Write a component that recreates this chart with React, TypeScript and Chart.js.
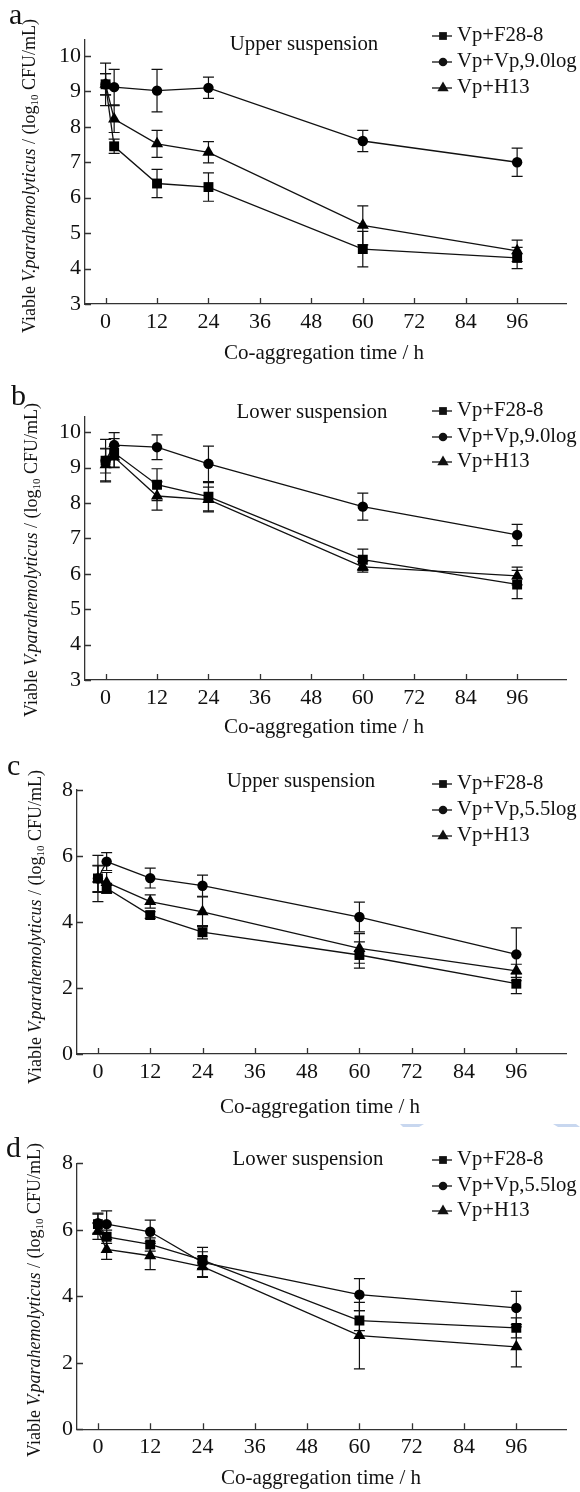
import React, { useEffect, useRef } from "react";
import { Chart, registerables } from "chart.js";

Chart.register(...registerables);

// ---------- data ----------
const TIMES = [0, 2, 12, 24, 60, 96];
const X_TICKS = [0, 12, 24, 36, 48, 60, 72, 84, 96];
const Y_TICKS_AB = [3, 4, 5, 6, 7, 8, 9, 10];
const Y_TICKS_CD = [0, 2, 4, 6, 8];

const LABELS_AB = ["Vp+F28-8", "Vp+Vp,9.0log", "Vp+H13"];
const LABELS_CD = ["Vp+F28-8", "Vp+Vp,5.5log", "Vp+H13"];

const A_F28 = [9.2, 7.45, 6.4, 6.3, 4.55, 4.3];
const A_F28_ERR = [0.6, 0.2, 0.4, 0.4, 0.5, 0.3];
const A_VP = [9.2, 9.12, 9.02, 9.1, 7.6, 7.0];
const A_VP_ERR = [0.3, 0.5, 0.6, 0.3, 0.3, 0.4];
const A_H13 = [9.2, 8.22, 7.52, 7.28, 5.22, 4.5];
const A_H13_ERR = [0.3, 0.38, 0.38, 0.3, 0.55, 0.3];

const B_F28 = [9.2, 9.42, 8.52, 8.18, 6.4, 5.7];
const B_F28_ERR = [0.6, 0.4, 0.45, 0.4, 0.3, 0.4];
const B_VP = [9.2, 9.64, 9.58, 9.11, 7.9, 7.1];
const B_VP_ERR = [0.35, 0.35, 0.35, 0.5, 0.38, 0.3];
const B_H13 = [9.08, 9.3, 8.2, 8.1, 6.2, 5.94];
const B_H13_ERR = [0.45, 0.3, 0.4, 0.35, 0.15, 0.25];

const C_F28 = [5.32, 5.02, 4.21, 3.69, 3.0, 2.13];
const C_F28_ERR = [0.4, 0.15, 0.1, 0.2, 0.4, 0.3];
const C_VP = [5.32, 5.83, 5.33, 5.1, 4.15, 3.02];
const C_VP_ERR = [0.7, 0.27, 0.3, 0.32, 0.45, 0.8];
const C_H13 = [5.3, 5.2, 4.62, 4.31, 3.2, 2.52];
const C_H13_ERR = [0.4, 0.3, 0.2, 0.45, 0.45, 0.2];

const D_F28 = [6.17, 5.79, 5.56, 5.09, 3.27, 3.05];
const D_F28_ERR = [0.3, 0.2, 0.2, 0.25, 0.3, 0.3];
const D_VP = [6.2, 6.17, 5.94, 5.02, 4.05, 3.65];
const D_VP_ERR = [0.3, 0.4, 0.35, 0.45, 0.48, 0.5];
const D_H13 = [5.96, 5.41, 5.22, 4.89, 2.82, 2.48];
const D_H13_ERR = [0.25, 0.3, 0.42, 0.3, 1.0, 0.6];

// ---------- styling / layout ----------
const SERIF = "'Liberation Serif', 'Times New Roman', serif";
const INK = "#111";
const STYLES = [
  { pointStyle: "rect", radius: 7 },
  { pointStyle: "circle", radius: 5.2 },
  { pointStyle: "triangle", radius: 7 },
];

type Panel = {
  letter: string;
  title: string;
  labels: string[];
  series: number[][];
  errors: number[][];
  yMin: number;
  yMax: number;
  yTicks: number[];
  height: number;
  area: { left: number; top: number; bottom: number };
  letterPos: [number, number];
  titlePos: [number, number];
  legendRows: number[];
  xTitlePos: [number, number];
  yTitlePos: [number, number];
  blue?: boolean;
};

const PANELS: Panel[] = [
  {
    letter: "a",
    title: "Upper suspension",
    labels: LABELS_AB,
    series: [A_F28, A_VP, A_H13],
    errors: [A_F28_ERR, A_VP_ERR, A_H13_ERR],
    yMin: 3,
    yMax: 10.45,
    yTicks: Y_TICKS_AB,
    height: 370,
    area: { left: 85, top: 40, bottom: 304 },
    letterPos: [9, 24],
    titlePos: [304, 45],
    legendRows: [36, 62, 88],
    xTitlePos: [324, 353],
    yTitlePos: [30, 176],
  },
  {
    letter: "b",
    title: "Lower suspension",
    labels: LABELS_AB,
    series: [B_F28, B_VP, B_H13],
    errors: [B_F28_ERR, B_VP_ERR, B_H13_ERR],
    yMin: 3,
    yMax: 10.45,
    yTicks: Y_TICKS_AB,
    height: 370,
    area: { left: 85, top: 46.4, bottom: 310 },
    letterPos: [11, 35],
    titlePos: [312, 43],
    legendRows: [41, 67, 92],
    xTitlePos: [324, 357],
    yTitlePos: [32, 190],
  },
  {
    letter: "c",
    title: "Upper suspension",
    labels: LABELS_CD,
    series: [C_F28, C_VP, C_H13],
    errors: [C_F28_ERR, C_VP_ERR, C_H13_ERR],
    yMin: 0,
    yMax: 8,
    yTicks: Y_TICKS_CD,
    height: 380,
    area: { left: 77, top: 50, bottom: 314 },
    letterPos: [7, 35],
    titlePos: [301, 42],
    legendRows: [44, 70, 96],
    xTitlePos: [320, 367],
    yTitlePos: [36, 187],
  },
  {
    letter: "d",
    title: "Lower suspension",
    labels: LABELS_CD,
    series: [D_F28, D_VP, D_H13],
    errors: [D_F28_ERR, D_VP_ERR, D_H13_ERR],
    yMin: 0,
    yMax: 8,
    yTicks: Y_TICKS_CD,
    height: 372,
    area: { left: 77, top: 43.3, bottom: 309.3 },
    letterPos: [6, 37],
    titlePos: [308, 40],
    legendRows: [40, 66, 91],
    xTitlePos: [321, 358],
    yTitlePos: [35, 180],
    blue: true,
  },
];

const Y_AXIS_W = 40;
const X_AXIS_H = 30;
const AREA_RIGHT = 566;
const WIDTH = 580;

function drawMarker(ctx: CanvasRenderingContext2D, style: string, x: number, y: number, r: number) {
  ctx.beginPath();
  if (style === "rect") {
    const s = r * Math.SQRT1_2;
    ctx.rect(x - s, y - s, 2 * s, 2 * s);
  } else if (style === "circle") {
    ctx.arc(x, y, r, 0, Math.PI * 2);
  } else {
    ctx.moveTo(x, y - r);
    ctx.lineTo(x + r * 0.866, y + r * 0.5);
    ctx.lineTo(x - r * 0.866, y + r * 0.5);
    ctx.closePath();
  }
  ctx.fill();
}

function drawYTitle(ctx: CanvasRenderingContext2D, cx: number, cy: number) {
  const size = 18;
  const parts = [
    { t: "Viable ", f: `${size}px ${SERIF}`, dy: 0 },
    { t: "V.parahemolyticus", f: `italic ${size}px ${SERIF}`, dy: 0 },
    { t: " / (log", f: `${size}px ${SERIF}`, dy: 0 },
    { t: "10", f: `${Math.round(size * 0.62)}px ${SERIF}`, dy: 5 },
    { t: " CFU/mL)", f: `${size}px ${SERIF}`, dy: 0 },
  ];
  ctx.save();
  ctx.translate(cx, cy);
  ctx.rotate(-Math.PI / 2);
  ctx.textBaseline = "middle";
  ctx.textAlign = "left";
  let total = 0;
  for (const p of parts) {
    ctx.font = p.f;
    total += ctx.measureText(p.t).width;
  }
  let x = -total / 2;
  for (const p of parts) {
    ctx.font = p.f;
    ctx.fillText(p.t, x, p.dy);
    x += ctx.measureText(p.t).width;
  }
  ctx.restore();
}

function makeChart(canvas: HTMLCanvasElement, p: Panel) {
  const datasets = p.series.map((vals, i) => ({
    label: p.labels[i],
    data: TIMES.map((t, j) => ({ x: t, y: vals[j] })),
    errors: p.errors[i],
    borderColor: INK,
    borderWidth: 1.3,
    pointStyle: STYLES[i].pointStyle as any,
    pointRadius: STYLES[i].radius,
    pointBackgroundColor: "#000",
    pointBorderColor: "#000",
    pointBorderWidth: 0,
    tension: 0,
    fill: false,
  }));

  const errorBars = {
    id: "errorBars",
    beforeDatasetsDraw(chart: any) {
      const ctx = chart.ctx as CanvasRenderingContext2D;
      const ys = chart.scales.y;
      ctx.save();
      ctx.strokeStyle = INK;
      ctx.lineWidth = 1.2;
      chart.data.datasets.forEach((ds: any, i: number) => {
        const meta = chart.getDatasetMeta(i);
        meta.data.forEach((pt: any, j: number) => {
          const v = ds.data[j].y;
          const e = ds.errors[j];
          const x = pt.x;
          const y1 = ys.getPixelForValue(v + e);
          const y2 = ys.getPixelForValue(v - e);
          const cap = 5.5;
          ctx.beginPath();
          ctx.moveTo(x, y1);
          ctx.lineTo(x, y2);
          ctx.moveTo(x - cap, y1);
          ctx.lineTo(x + cap, y1);
          ctx.moveTo(x - cap, y2);
          ctx.lineTo(x + cap, y2);
          ctx.stroke();
        });
      });
      ctx.restore();
    },
  };

  const decorations = {
    id: "decorations",
    afterDraw(chart: any) {
      const ctx = chart.ctx as CanvasRenderingContext2D;
      const xs = chart.scales.x;
      const ys = chart.scales.y;
      const area = chart.chartArea;
      ctx.save();
      // inward tick marks
      ctx.strokeStyle = "#333";
      ctx.lineWidth = 1.3;
      ctx.beginPath();
      for (const t of X_TICKS) {
        const px = Math.round(xs.getPixelForValue(t)) + 0.5;
        ctx.moveTo(px, area.bottom);
        ctx.lineTo(px, area.bottom - 6);
      }
      for (const t of p.yTicks) {
        const py = Math.round(ys.getPixelForValue(t)) + 0.5;
        ctx.moveTo(area.left, py);
        ctx.lineTo(area.left + 6, py);
      }
      ctx.stroke();

      ctx.fillStyle = INK;
      // panel letter
      ctx.font = `30px ${SERIF}`;
      ctx.textAlign = "left";
      ctx.textBaseline = "alphabetic";
      ctx.fillText(p.letter, p.letterPos[0], p.letterPos[1]);

      // panel title
      ctx.font = `20.8px ${SERIF}`;
      ctx.textAlign = "center";
      ctx.textBaseline = "middle";
      ctx.fillText(p.title, p.titlePos[0], p.titlePos[1]);

      // x axis title
      ctx.font = `21px ${SERIF}`;
      ctx.fillText("Co-aggregation time / h", p.xTitlePos[0], p.xTitlePos[1]);

      // y axis title
      drawYTitle(ctx, p.yTitlePos[0], p.yTitlePos[1]);

      // legend
      ctx.font = `20.7px ${SERIF}`;
      ctx.textAlign = "left";
      ctx.textBaseline = "middle";
      chart.data.datasets.forEach((ds: any, i: number) => {
        const y = p.legendRows[i];
        ctx.strokeStyle = INK;
        ctx.lineWidth = 1.3;
        ctx.beginPath();
        ctx.moveTo(432, y);
        ctx.lineTo(452, y);
        ctx.stroke();
        const st = STYLES[i].pointStyle;
        drawMarker(ctx, st, 443, y, st === "triangle" ? 6.5 : st === "rect" ? 5.5 : 4.3);
        ctx.fillText(ds.label, 457, y);
      });

      if (p.blue) {
        ctx.fillStyle = "#c8d7ef";
        ctx.beginPath();
        ctx.moveTo(400, 4);
        ctx.lineTo(424, 4);
        ctx.lineTo(419, 7);
        ctx.lineTo(403, 7);
        ctx.closePath();
        ctx.fill();
        ctx.beginPath();
        ctx.moveTo(553, 4);
        ctx.lineTo(576, 4);
        ctx.lineTo(580, 7);
        ctx.lineTo(558, 7);
        ctx.closePath();
        ctx.fill();
      }
      ctx.restore();
    },
  };

  const tickFont = { family: SERIF, size: 22 };

  return new Chart(canvas, {
    type: "line",
    data: { datasets: datasets as any },
    options: {
      animation: false,
      responsive: false,
      devicePixelRatio: 1,
      layout: {
        padding: {
          left: p.area.left - Y_AXIS_W,
          right: WIDTH - AREA_RIGHT,
          top: p.area.top,
          bottom: p.height - p.area.bottom - X_AXIS_H,
        },
      },
      plugins: {
        legend: { display: false },
        tooltip: { enabled: false },
        title: { display: false },
      },
      scales: {
        x: {
          type: "linear",
          min: -4.8,
          max: 107.4,
          grid: { display: false, drawTicks: false },
          border: { display: true, color: "#333", width: 1.3 },
          ticks: { font: tickFont, color: INK, padding: 5, maxRotation: 0 },
          afterBuildTicks: (scale: any) => {
            scale.ticks = X_TICKS.map((v) => ({ value: v }));
          },
          afterFit: (scale: any) => {
            scale.height = X_AXIS_H;
          },
        },
        y: {
          type: "linear",
          min: p.yMin,
          max: p.yMax,
          grid: { display: false, drawTicks: false },
          border: { display: true, color: "#333", width: 1.3 },
          ticks: { font: tickFont, color: INK, padding: 4 },
          afterBuildTicks: (scale: any) => {
            scale.ticks = p.yTicks.map((v) => ({ value: v }));
          },
          afterFit: (scale: any) => {
            scale.width = Y_AXIS_W;
          },
        },
      },
    },
    plugins: [errorBars, decorations],
  } as any);
}

function PanelChart({ panel }: { panel: Panel }) {
  const ref = useRef<HTMLCanvasElement | null>(null);
  useEffect(() => {
    if (!ref.current) return;
    const chart = makeChart(ref.current, panel);
    return () => chart.destroy();
  }, [panel]);
  return (
    <canvas
      ref={ref}
      width={WIDTH}
      height={panel.height}
      style={{ display: "block", width: WIDTH, height: panel.height }}
    />
  );
}

export default function App() {
  return (
    <div
      style={{
        position: "absolute",
        left: 0,
        top: 0,
        width: WIDTH,
        height: 1492,
        background: "#fff",
        overflow: "hidden",
      }}
    >
      {PANELS.map((p) => (
        <PanelChart key={p.letter} panel={p} />
      ))}
    </div>
  );
}
